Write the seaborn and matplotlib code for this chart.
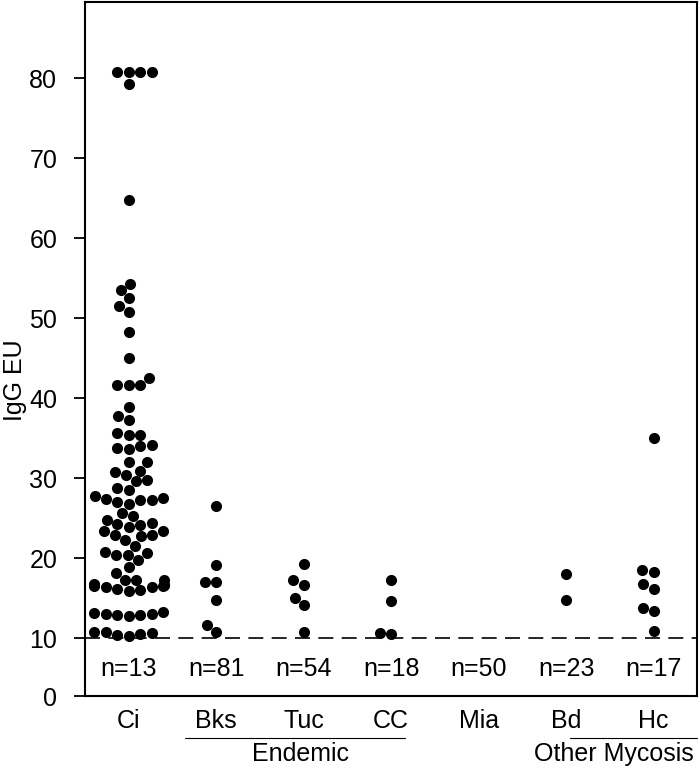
import pandas as pd
import matplotlib
matplotlib.use("Agg")
import matplotlib.pyplot as plt
import seaborn as sns

# Data
categories = ["Ci", "Bks", "Tuc", "CC", "Mia", "Bd", "Hc"]
n_labels = ["n=13", "n=81", "n=54", "n=18", "n=50", "n=23", "n=17"]

ci_vals = [80.8, 80.8, 80.8, 80.8, 79.3, 64.7,
           54.25, 53.5, 52.5, 51.5, 50.7, 48.2, 45.0, 42.5, 41.6, 41.6, 41.6,
           38.9, 37.3, 37.7, 35.6, 35.4, 35.4, 33.8, 33.6, 34.1, 34.0,
           32.0, 32.0, 30.9, 30.4, 30.8, 29.75, 29.6, 28.8, 28.5,
           27.5, 27.3, 27.2, 27.0, 27.4, 26.8, 27.7,
           25.6, 25.2,
           24.75, 24.25, 23.9, 24.1, 24.4,
           23.4, 22.9, 22.7, 22.9, 23.4,
           22.25, 21.5,
           20.7, 20.4, 20.4, 20.6,
           19.75, 18.9, 18.1,
           17.25, 17.3, 17.2,
           16.5, 16.6, 16.4, 16.6, 16.7, 16.5, 16.6, 16.4, 16.0, 15.9, 16.1,
           13.2, 13.0, 12.9, 13.1, 12.9, 13.0, 12.7,
           10.8, 10.5, 10.7, 10.4, 10.6, 10.2]
bks_vals = [26.5, 19.1, 17.0, 17.0, 14.8, 11.6, 10.8]
tuc_vals = [19.3, 17.25, 16.6, 15.0, 14.1, 10.7]
cc_vals = [17.25, 14.6, 10.5, 10.6]
mia_vals = []
bd_vals = [18.0, 14.8]
hc_vals = [35.0, 18.5, 18.2, 16.7, 16.1, 13.8, 13.4, 10.9]

cutoff = 10
# group name, line start, line end, label centre (category units)
groups = [("Endemic", 0.64, 3.16, 1.96), ("Other Mycosis", 5.04, 6.5, 5.54)]

all_vals = [ci_vals, bks_vals, tuc_vals, cc_vals, mia_vals, bd_vals, hc_vals]
df = pd.DataFrame({
    "group": [c for c, v in zip(categories, all_vals) for _ in v],
    "igg": [x for v in all_vals for x in v],
})

sns.set_style("white")
plt.rcParams["font.family"] = ["Liberation Sans Narrow", "Liberation Sans", "DejaVu Sans"]
plt.rcParams.update({"text.color": "black", "axes.labelcolor": "black",
                     "xtick.color": "black", "ytick.color": "black"})
fs = 18

fig = plt.figure(figsize=(7, 7.69), dpi=100)
ax = fig.add_axes([0.1214, 0.0949, 0.875, 0.9025])

sns.swarmplot(data=df, x="group", y="igg", order=categories, color="black",
              size=8, linewidth=0, ax=ax, warn_thresh=1)

ax.axhline(cutoff, color="black", lw=1.2, ls=(0, (9, 5)), zorder=0)

# y axis starts above zero; the bottom tick is labelled 0 as in the figure
y_bottom = 2.75
ax.set_ylim(y_bottom, 89.5)
ax.set_xlim(-0.5, 6.5)
ax.set_yticks([y_bottom, 10, 20, 30, 40, 50, 60, 70, 80])
ax.set_yticklabels(["0", "10", "20", "30", "40", "50", "60", "70", "80"])
ax.tick_params(axis="y", direction="out", length=8, width=1.3, labelsize=fs, pad=12, left=True)
ax.tick_params(axis="x", length=0, labelsize=fs, pad=9)
ax.set_xlabel("")
ax.set_ylabel("IgG EU", fontsize=fs)
ax.yaxis.set_label_coords(-0.094, 0.455)
for s in ax.spines.values():
    s.set_color("black")
    s.set_linewidth(1.5)

for i, lab in enumerate(n_labels):
    ax.text(i, 6.1, lab, ha="center", va="center", fontsize=fs)

trans = ax.get_xaxis_transform()
for name, x0, x1, xc in groups:
    ax.plot([x0, x1], [-0.06, -0.06], color="black", lw=0.8,
            transform=trans, clip_on=False)
    ax.text(xc, -0.083, name, ha="center", va="center",
            fontsize=fs, transform=trans)

fig.savefig("out.png", dpi=100)
